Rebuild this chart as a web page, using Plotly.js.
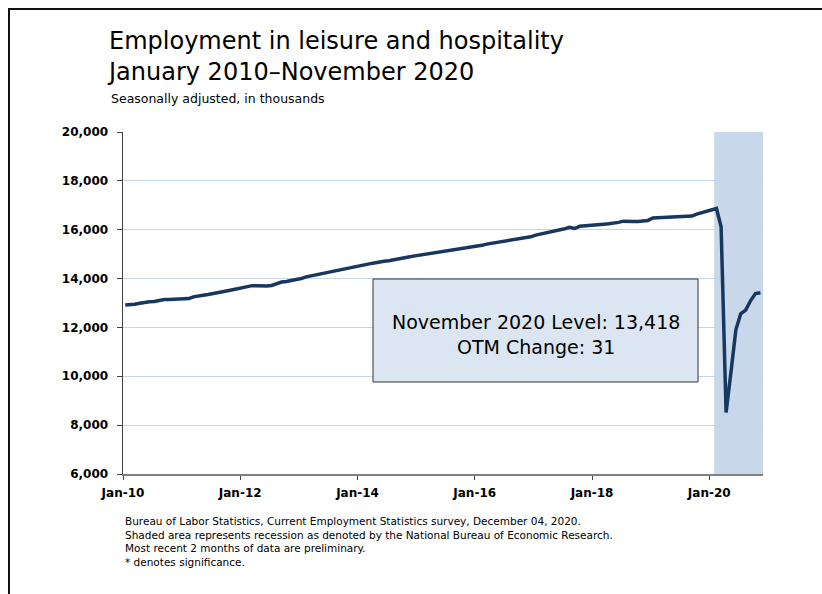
<!DOCTYPE html>
<html>
<head>
<meta charset="utf-8">
<script src="https://cdn.plot.ly/plotly-3.0.1.min.js"></script>
<style>
  html, body { margin: 0; padding: 0; background: #fff; overflow: hidden; }
  #wrap { position: relative; width: 822px; height: 594px; }
  #chart { width: 822px; height: 594px; }
  #frame { position: absolute; left: 8px; top: 8px; width: 900px; height: 700px;
           border-left: 2px solid #111; border-top: 2px solid #111; pointer-events: none; }
</style>
</head>
<body>
<div id="wrap">
  <div id="chart"></div>
  <div id="frame"></div>
</div>
<script>
// Employment in leisure and hospitality, thousands, seasonally adjusted
const years = [2010, 2011, 2012, 2013, 2014, 2015, 2016, 2017, 2018, 2019, 2020];
const emp2010 = [12920, 12925, 12950, 12990, 13030, 13050, 13060, 13100, 13140, 13140, 13150, 13150];
const emp2011 = [13160, 13180, 13250, 13300, 13320, 13350, 13380, 13420, 13460, 13500, 13540, 13580];
const emp2012 = [13620, 13680, 13710, 13710, 13700, 13700, 13720, 13790, 13860, 13880, 13910, 13950];
const emp2013 = [14000, 14070, 14110, 14150, 14190, 14230, 14270, 14310, 14350, 14400, 14440, 14480];
const emp2014 = [14520, 14560, 14600, 14640, 14690, 14710, 14730, 14760, 14800, 14840, 14880, 14920];
const emp2015 = [14950, 14980, 15010, 15050, 15080, 15100, 15150, 15170, 15200, 15240, 15270, 15300];
const emp2016 = [15330, 15360, 15410, 15440, 15470, 15510, 15550, 15580, 15620, 15650, 15680, 15710];
const emp2017 = [15780, 15820, 15860, 15900, 15940, 15980, 16040, 16100, 16050, 16140, 16150, 16160];
const emp2018 = [16170, 16190, 16220, 16240, 16260, 16300, 16350, 16360, 16340, 16340, 16360, 16380];
const emp2019 = [16480, 16490, 16470, 16480, 16500, 16510, 16510, 16520, 16560, 16640, 16700, 16760];
const emp2020 = [16800, 16870, 16120, 8520, 10150, 11900, 12560, 12710, 13100, 13387, 13418];

const tickDates = ['2010-01-01', '2012-01-01', '2014-01-01', '2016-01-01', '2018-01-01', '2020-01-01'];
const tickLabels = ['Jan-10', 'Jan-12', 'Jan-14', 'Jan-16', 'Jan-18', 'Jan-20'];
const recession = ['2020-02-01', '2020-12-01'];
const boxLines = ['November 2020 Level: 13,418', 'OTM Change: 31'];
const footnotes = [
  'Bureau of Labor Statistics, Current Employment Statistics survey, December 04, 2020.',
  'Shaded area represents recession as denoted by the National Bureau of Economic Research.',
  'Most recent 2 months of data are preliminary.',
  '* denotes significance.'
];

const yearly = [emp2010, emp2011, emp2012, emp2013, emp2014, emp2015, emp2016, emp2017, emp2018, emp2019, emp2020];
const xs = [], ys = [];
yearly.forEach((arr, i) => {
  arr.forEach((v, m) => {
    xs.push(years[i] + '-' + String(m + 1).padStart(2, '0') + '-15');
    ys.push(v);
  });
});

const trace = {
  x: xs, y: ys, type: 'scatter', mode: 'lines',
  line: { color: '#17375e', width: 3.5 },
  hoverinfo: 'x+y'
};

const W = 640, H = 342, L = 123, T = 132;
const px = p => (p - L) / W;
const py = p => (T + H - p) / H;

const layout = {
  width: 822, height: 594,
  margin: { l: 123, r: 59, t: 132, b: 120 },
  paper_bgcolor: '#ffffff', plot_bgcolor: '#ffffff',
  showlegend: false,
  title: {
    text: 'Employment in leisure and hospitality<br>January 2010\u2013November 2020',
    font: { family: 'DejaVu Sans', size: 24, color: '#000' },
    x: 109 / 822, xanchor: 'left', xref: 'container',
    y: 1 - 49 / 594, yanchor: 'middle', yref: 'container'
  },
  xaxis: {
    type: 'date',
    range: ['2010-01-01', '2020-12-01'],
    tickmode: 'array', tickvals: tickDates, ticktext: tickLabels,
    ticks: 'outside', ticklen: 4, tickcolor: '#404040', tickwidth: 1,
    ticklabelstandoff: 3,
    showgrid: false, zeroline: false,
    showline: true, linecolor: '#808080', linewidth: 2,
    tickfont: { family: 'DejaVu Sans', size: 12, color: '#000', weight: 'bold' },
    fixedrange: true
  },
  yaxis: {
    range: [6000, 20000], dtick: 2000, tick0: 6000,
    tickformat: ',d',
    ticks: 'outside', ticklen: 5, tickcolor: '#404040', tickwidth: 1,
    ticklabelstandoff: 6,
    showgrid: true, gridcolor: '#c3d6ee', gridwidth: 1,
    zeroline: false,
    showline: true, linecolor: '#404040', linewidth: 1.5,
    tickfont: { family: 'DejaVu Sans', size: 12, color: '#000', weight: 'bold' },
    fixedrange: true
  },
  shapes: [
    { type: 'rect', xref: 'x', yref: 'paper', x0: recession[0], x1: recession[1], y0: 0, y1: 1,
      fillcolor: '#c8d7ea', line: { width: 0 }, layer: 'below' },
    { type: 'rect', xref: 'paper', yref: 'paper', x0: px(373), x1: px(698), y0: py(382), y1: py(279),
      fillcolor: '#dce6f2', line: { color: '#333333', width: 1 }, layer: 'above' }
  ],
  annotations: [
    { xref: 'paper', yref: 'paper', x: px(109), y: py(99), xanchor: 'left', yanchor: 'middle',
      text: 'Seasonally adjusted, in thousands', showarrow: false,
      font: { family: 'DejaVu Sans', size: 12.5, color: '#000' } },
    { xref: 'paper', yref: 'paper', x: px(536), y: py(334), xanchor: 'center', yanchor: 'middle',
      text: boxLines.join('<br>'), showarrow: false, align: 'center',
      font: { family: 'DejaVu Sans', size: 19, color: '#000' } },
    { xref: 'paper', yref: 'paper', x: px(123), y: py(541), xanchor: 'left', yanchor: 'middle',
      text: footnotes.join('<br>'), showarrow: false, align: 'left',
      font: { family: 'DejaVu Sans', size: 10.5, color: '#000' } }
  ]
};

Plotly.newPlot('chart', [trace], layout, { displayModeBar: false, staticPlot: true });
</script>
</body>
</html>
